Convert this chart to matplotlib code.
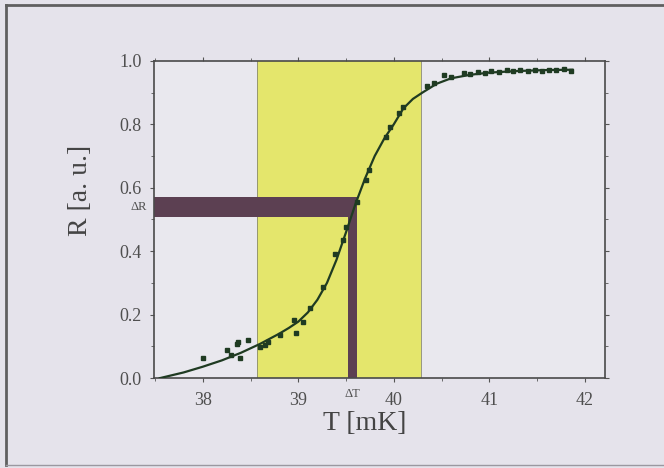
import matplotlib
matplotlib.use("Agg")
import matplotlib.pyplot as plt
from matplotlib.ticker import MultipleLocator, FormatStrFormatter
from matplotlib.lines import Line2D
import matplotlib.transforms as mtransforms

# ---- data ----
curve_T = [37.55, 37.8, 38.0, 38.2, 38.4, 38.6, 38.8, 38.9, 39.0, 39.1, 39.2, 39.3,
           39.4, 39.5, 39.6, 39.7, 39.8, 39.9, 40.0, 40.1, 40.2, 40.3, 40.45, 40.6,
           40.8, 41.0, 41.3, 41.6, 41.87]
curve_R = [0.0, 0.018, 0.036, 0.056, 0.08, 0.108, 0.14, 0.158, 0.178, 0.207, 0.247,
           0.30, 0.373, 0.46, 0.55, 0.63, 0.70, 0.755, 0.80, 0.85, 0.88, 0.90, 0.928,
           0.945, 0.956, 0.963, 0.968, 0.971, 0.972]

pts_T = [38.0, 38.25, 38.3, 38.36, 38.39, 38.47, 38.37, 38.6, 38.65, 38.68, 38.81,
         38.96, 38.98, 39.05, 39.12, 39.26, 39.38, 39.47, 39.5, 39.61, 39.71, 39.74,
         39.92, 39.96, 40.05, 40.1, 40.35, 40.42, 40.53, 40.6, 40.74, 40.8, 40.88,
         40.95, 41.02, 41.1, 41.18, 41.25, 41.32, 41.4, 41.48, 41.55, 41.62, 41.7,
         41.78, 41.85]
pts_R = [0.062, 0.088, 0.073, 0.109, 0.063, 0.12, 0.115, 0.099, 0.104, 0.115, 0.136,
         0.183, 0.141, 0.178, 0.22, 0.287, 0.39, 0.435, 0.477, 0.556, 0.625, 0.656,
         0.761, 0.79, 0.835, 0.855, 0.92, 0.93, 0.956, 0.95, 0.963, 0.958, 0.965,
         0.962, 0.968, 0.965, 0.97, 0.967, 0.972, 0.968, 0.971, 0.969, 0.972, 0.97,
         0.973, 0.968]

band_T = [38.565, 40.28]          # yellow region
dR = [0.509, 0.570]               # Delta R band
dT = [39.52, 39.61]               # Delta T band

xticks = [38, 39, 40, 41, 42]
yticks = [0.0, 0.2, 0.4, 0.6, 0.8, 1.0]

# ---- style ----
bg = "#e5e3eb"
txt = "#4f4f4f"
yellow = "#e4e66c"
bar = "#5c4052"
green = "#1f3b22"

plt.rcParams['font.family'] = ['Liberation Serif', 'DejaVu Serif']

fig = plt.figure(figsize=(6.64, 4.68), dpi=100, facecolor=bg)
ax = fig.add_axes([0.232, 0.192, 0.679, 0.678])
ax.set_facecolor("#e9e8ee")

ax.set_xlim(37.49, 42.21)
ax.set_ylim(0, 1.0)

ax.axvspan(band_T[0], band_T[1], color=yellow, zorder=1, lw=0)
ax.axvline(band_T[0], color="#8a8a70", lw=0.6, zorder=1)
ax.axvline(band_T[1], color="#8a8a70", lw=0.6, zorder=1)

# Delta R horizontal bar from axis to Delta T
ax.fill_between([37.49, dT[1]], dR[0], dR[1], color=bar, zorder=2, lw=0)
# Delta T vertical bar
ax.fill_between([dT[0], dT[1]], 0, dR[0], color=bar, zorder=2, lw=0)

ax.plot(curve_T, curve_R, color=green, lw=1.6, zorder=4)
ax.plot(pts_T, pts_R, ls="none", marker="s", ms=2.6, color=green, zorder=5)

ax.set_xticks(xticks)
ax.set_yticks(yticks)
ax.yaxis.set_major_formatter(FormatStrFormatter("%.1f"))
ax.xaxis.set_minor_locator(MultipleLocator(0.5))
ax.yaxis.set_minor_locator(MultipleLocator(0.1))
ax.tick_params(which="both", direction="out", top=True, right=True, color="#555555",
               labelcolor=txt, labelsize=13)
ax.tick_params(axis="y", pad=6)
ax.tick_params(axis="x", pad=7)
ax.tick_params(which="major", length=3, width=0.8)
ax.tick_params(which="minor", length=2, width=0.6)
for s in ax.spines.values():
    s.set_color("#4a4a4a")
    s.set_linewidth(1.2)

ax.set_xlabel("T [mK]", fontsize=20, color="#444444")
ax.set_ylabel("R [a. u.]", fontsize=20, color="#444444")
ax.xaxis.set_label_coords(0.468, -0.105)
ax.yaxis.set_label_coords(-0.135, 0.59)

tr = mtransforms.blended_transform_factory(ax.transAxes, ax.transData)
ax.text(-0.015, sum(dR) / 2, "ΔR", transform=tr, ha="right", va="center",
        fontsize=9, color=txt)
tr2 = mtransforms.blended_transform_factory(ax.transData, ax.transAxes)
ax.text(sum(dT) / 2, -0.03, "ΔT", transform=tr2, ha="center", va="top",
        fontsize=9, color=txt)

# outer frame lines
fig.add_artist(Line2D([0.009, 0.009], [0.006, 0.989], transform=fig.transFigure,
                      color="#606060", lw=2))
fig.add_artist(Line2D([0.009, 1.0], [0.989, 0.989], transform=fig.transFigure,
                      color="#606060", lw=2))
fig.add_artist(Line2D([0.009, 1.0], [0.006, 0.006], transform=fig.transFigure,
                      color="#9a98a0", lw=1))

fig.savefig("out.png", dpi=100, facecolor=bg)
